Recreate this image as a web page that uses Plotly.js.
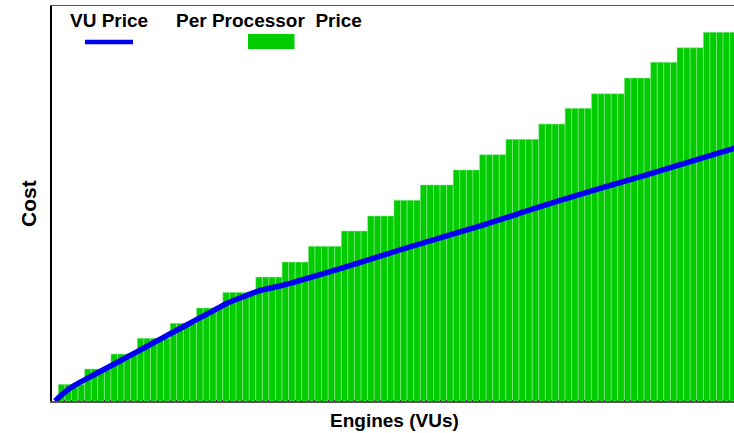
<!DOCTYPE html>
<html>
<head>
<meta charset="utf-8">
<script src="https://cdn.plot.ly/plotly-3.0.1.min.js"></script>
<style>
  html, body { margin: 0; padding: 0; background: #fff; }
  #chart { width: 734px; height: 433px; }
</style>
</head>
<body>
<div id="chart"></div>
<script>
// Per processor price: each step starts at this VU and holds this cost
var stepStartVU = [1, 5, 9, 13, 18, 22, 26, 31, 35, 39, 44, 48, 52, 56, 61, 65, 69, 74, 78, 82, 87, 91, 95, 99];
var stepPrice   = [1.09, 2.09, 3.07, 4.10, 5.08, 6.08, 7.10, 8.10, 9.08, 10.11, 11.11, 12.09, 13.12, 14.12, 15.10, 16.10, 17.10, 18.10, 19.13, 20.08, 21.11, 22.14, 23.09, 24.10];
var lastVU = 103;

// VU price curve
var vuPriceX = [0, 2, 4, 6, 9, 11, 14, 16, 19, 21, 24, 26, 29, 31, 34, 36, 40, 47, 52, 65, 76, 90, 104];
var vuPriceY = [0, 0.75, 1.27, 1.73, 2.42, 2.88, 3.58, 4.05, 4.74, 5.20, 5.89, 6.36, 6.88, 7.20, 7.50, 7.72, 8.22, 9.14, 9.82, 11.50, 13.02, 14.80, 16.62];

var legendLabels = ['VU Price', 'Per Processor\u00a0 Price'];
var xTitle = 'Engines (VUs)';
var yTitle = 'Cost';

// expand steps to one bar per VU
var engines = [], perProc = [];
for (var v = 1; v <= lastVU; v++) {
  var p = 0;
  for (var s = 0; s < stepStartVU.length; s++) { if (stepStartVU[s] <= v) p = stepPrice[s]; }
  engines.push(v); perProc.push(p);
}

var W = 734, H = 433, L = 52, R = 0, T = 6, B = 32;
var pw = W - L - R, ph = H - T - B;
function px(x) { return (x - L) / pw; }
function py(y) { return (H - B - y) / ph; }

var green = 'rgb(0,204,0)', blue = 'rgb(0,0,240)';

var traces = [
  { type: 'bar', x: engines, y: perProc,
    marker: { color: green, line: { width: 0.6, color: 'rgba(150,235,150,0.9)' } },
    name: legendLabels[1], hoverinfo: 'skip' },
  { type: 'scatter', mode: 'lines', x: vuPriceX, y: vuPriceY,
    line: { color: blue, width: 5.5, shape: 'spline', smoothing: 0.8 }, name: legendLabels[0], hoverinfo: 'skip' }
];

var font = { family: 'Liberation Sans, Arial, sans-serif', color: '#000' };

var layout = {
  width: W, height: H,
  margin: { l: L, r: R, t: T, b: B, pad: 0 },
  paper_bgcolor: '#fff', plot_bgcolor: '#fff',
  showlegend: false,
  bargap: 0,
  xaxis: {
    range: [-0.457, 103.16], showgrid: false, zeroline: false,
    showline: true, linecolor: '#555', linewidth: 1.5, mirror: true,
    ticks: 'inside', tickmode: 'linear', tick0: 0.5, dtick: 1, ticklen: 1.5, tickcolor: '#222', tickwidth: 1,
    showticklabels: false, fixedrange: true
  },
  yaxis: {
    range: [0, 395 / 15.3], showgrid: false, zeroline: false,
    showline: true, linecolor: '#000', linewidth: 2,
    ticks: '', showticklabels: false, fixedrange: true
  },
  annotations: [
    { xref: 'paper', yref: 'paper', x: px(108.8), y: py(21), xanchor: 'center', yanchor: 'middle',
      text: '<b>' + legendLabels[0] + '</b>', showarrow: false, font: Object.assign({ size: 19 }, font) },
    { xref: 'paper', yref: 'paper', x: px(269), y: py(21), xanchor: 'center', yanchor: 'middle',
      text: '<b>' + legendLabels[1] + '</b>', showarrow: false, font: Object.assign({ size: 19 }, font) },
    { xref: 'paper', yref: 'paper', x: px(394.5), y: py(420), xanchor: 'center', yanchor: 'middle',
      text: '<b>' + xTitle + '</b>', showarrow: false, font: Object.assign({ size: 19 }, font) },
    { xref: 'paper', yref: 'paper', x: px(28), y: py(203), xanchor: 'center', yanchor: 'middle',
      text: '<b>' + yTitle + '</b>', textangle: -90, showarrow: false, font: Object.assign({ size: 21 }, font) }
  ],
  shapes: [
    { type: 'line', xref: 'paper', yref: 'paper', x0: px(85), x1: px(133), y0: py(42), y1: py(42),
      line: { color: blue, width: 4.5 }, layer: 'above' },
    { type: 'rect', xref: 'paper', yref: 'paper', x0: px(248), x1: px(294.5), y0: py(49), y1: py(34),
      fillcolor: green, line: { width: 0 }, layer: 'above' }
  ]
};

Plotly.newPlot('chart', traces, layout, { displayModeBar: false, staticPlot: true });
</script>
</body>
</html>
